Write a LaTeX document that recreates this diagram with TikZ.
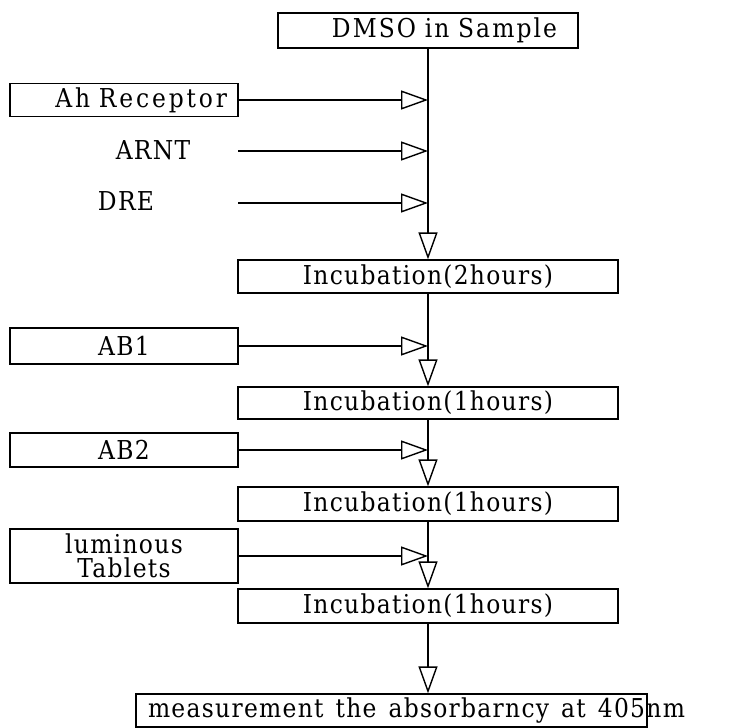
\documentclass[tikz,border=0pt]{standalone}
\usepackage{fontspec}
\setmainfont{DejaVu Serif}[LetterSpace=5, FakeStretch=0.9]
\usetikzlibrary{arrows.meta}

\tikzset{
  flowbox/.style={draw, line width=1.3pt, inner sep=0pt, font=\fontsize{26}{28}\selectfont},
  plain/.style={inner sep=0pt, font=\fontsize{26}{28}\selectfont},
  feed/.style={line width=1.4pt, -{Triangle[open, length=27pt, width=19pt, line width=1.4pt]}},
  flow/.style={line width=1.4pt}
}

\begin{document}
\begin{tikzpicture}[x=1pt, y=-1pt]
  \useasboundingbox (0,0) rectangle (734,728);

  % main column
  \node[flowbox, minimum width=300, minimum height=35, text width=258, align=right] (dmso) at (428,30.5)
    {\addfontfeature{LetterSpace=8}DMSO in Sample};
  \node[flowbox, minimum width=380, minimum height=33] (inc2) at (428,276.5) {Incubation(2hours)};
  \node[flowbox, minimum width=380, minimum height=32] (inc1a) at (428,403) {Incubation(1hours)};
  \node[flowbox, minimum width=380, minimum height=34] (inc1b) at (428,504) {Incubation(1hours)};
  \node[flowbox, minimum width=380, minimum height=34] (inc1c) at (428,606) {Incubation(1hours)};
  \node[flowbox, minimum height=33, text width=511, align=left] (meas) at (391.5,710.5)
    {\hspace*{12pt}\makebox[0pt][l]{\spaceskip=12pt measurement the absorbarncy at 405nm}};

  % reagents added from the left
  \node[flowbox, minimum width=228, minimum height=33, text width=206, align=right] (ah) at (124,100)
    {\addfontfeature{LetterSpace=11}Ah Receptor};
  \node[plain] (arnt) at (153,150) {ARNT};
  \node[plain] (dre) at (126,201) {DRE};
  \coordinate (arntfrom) at (238,151);
  \coordinate (drefrom) at (238,203);
  \node[flowbox, minimum width=228, minimum height=36] (ab1) at (124,346) {AB1};
  \node[flowbox, minimum width=228, minimum height=34] (ab2) at (124,450) {AB2};
  \node[flowbox, minimum width=228, minimum height=54, align=center] (lum) at (124,556) {luminous\\[-4pt]Tablets};

  % vertical flow
  \draw[flow] (dmso.south) -- ([yshift=28pt]inc2.north);
  \draw[feed] ([yshift=28pt]inc2.north) -- (inc2.north);
  \draw[feed] (inc2.south) -- (inc1a.north);
  \draw[feed] (inc1a.south) -- (inc1b.north);
  \draw[feed] (inc1b.south) -- (inc1c.north);
  \draw[feed] (inc1c.south) -- (meas.north -| inc1c.south);

  % side inputs
  \draw[feed] (ah.east) -- (ah.east -| dmso.south);
  \draw[feed] (arntfrom) -- (arntfrom -| dmso.south);
  \draw[feed] (drefrom) -- (drefrom -| dmso.south);
  \draw[feed] (ab1.east) -- (ab1.east -| inc2.south);
  \draw[feed] (ab2.east) -- (ab2.east -| inc1a.south);
  \draw[feed] (lum.east) -- (lum.east -| inc1b.south);
\end{tikzpicture}
\end{document}
